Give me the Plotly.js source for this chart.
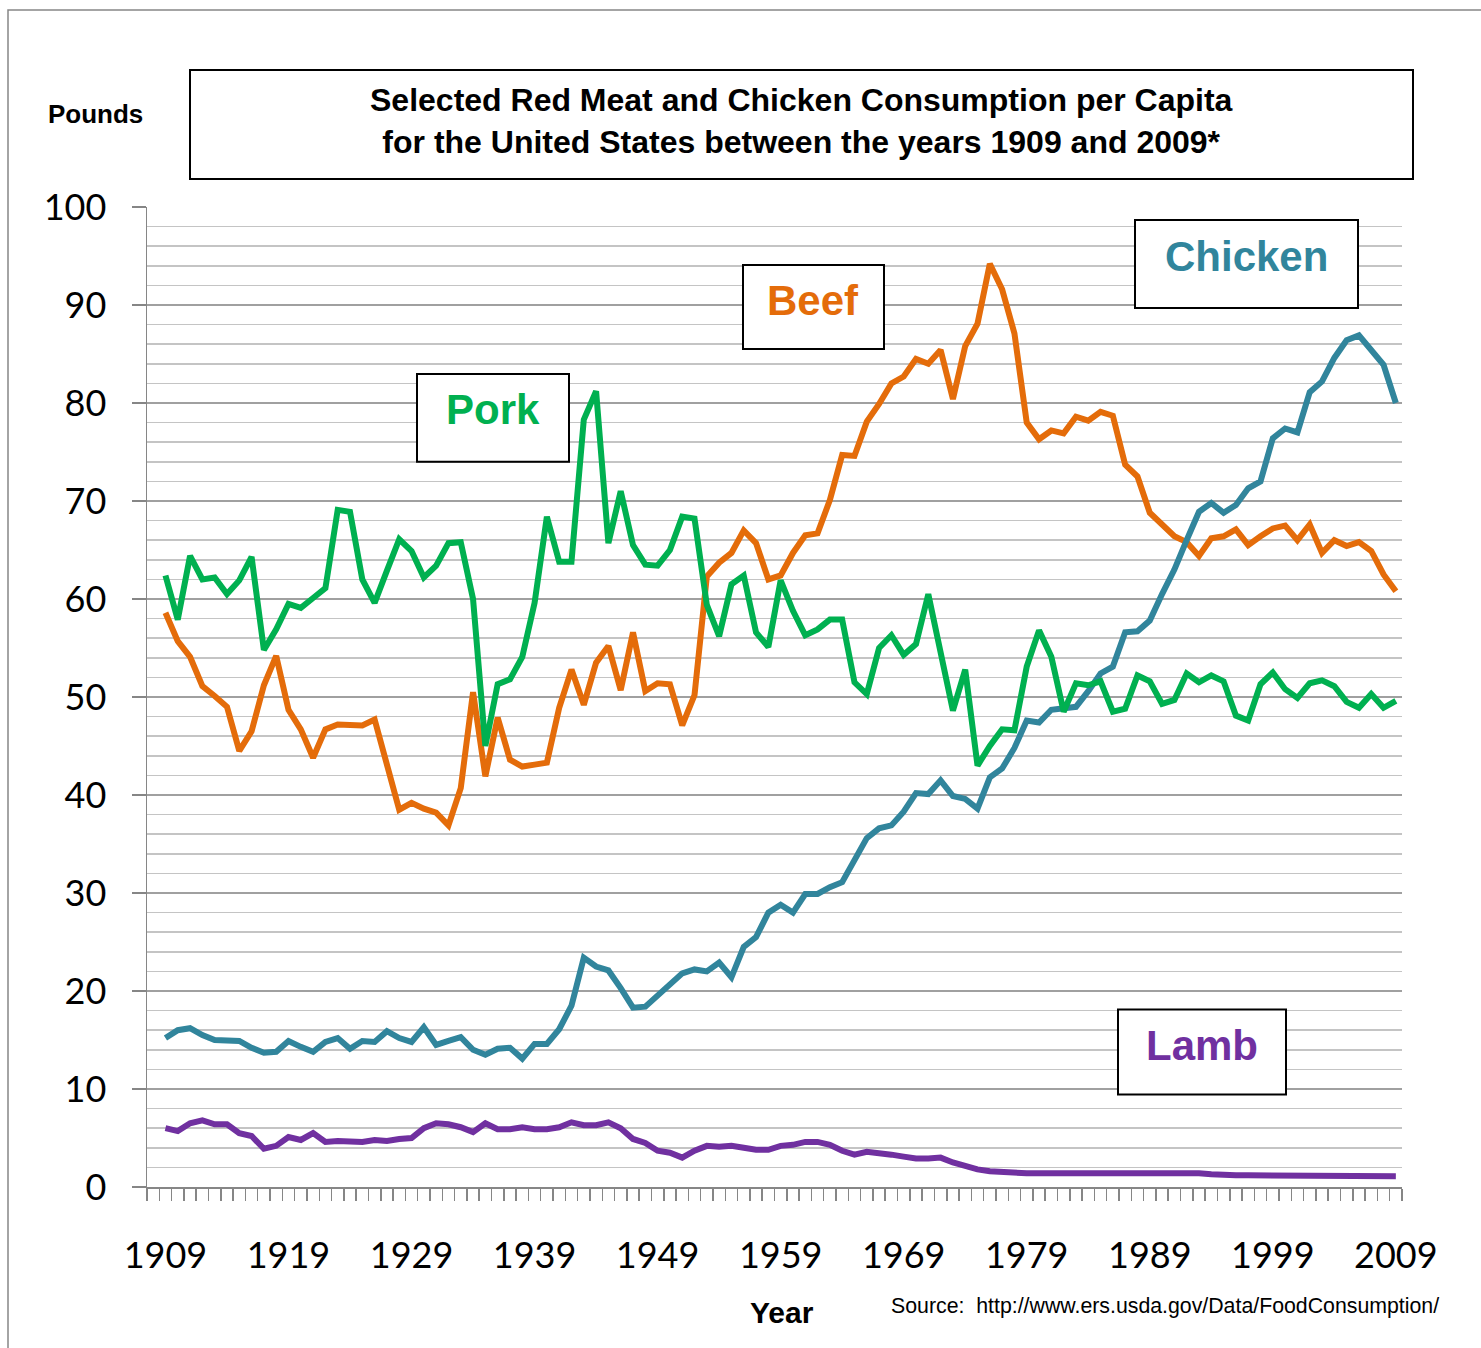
<!DOCTYPE html>
<html><head><meta charset="utf-8">
<script src="https://cdn.plot.ly/plotly-3.0.1.min.js"></script>
<style>html,body{margin:0;padding:0;background:#fff}#chart{width:1481px;height:1348px}</style>
</head><body><div id="chart"></div>
<script>
const years = [1909,1910,1911,1912,1913,1914,1915,1916,1917,1918,1919,1920,1921,1922,1923,1924,1925,1926,1927,1928,1929,
1930,1931,1932,1933,1934,1935,1936,1937,1938,1939,1940,1941,1942,1943,1944,1945,1946,1947,1948,1949,
1950,1951,1952,1953,1954,1955,1956,1957,1958,1959,1960,1961,1962,1963,1964,1965,1966,1967,1968,1969,
1970,1971,1972,1973,1974,1975,1976,1977,1978,1979,1980,1981,1982,1983,1984,1985,1986,1987,1988,1989,
1990,1991,1992,1993,1994,1995,1996,1997,1998,1999,2000,2001,2002,2003,2004,2005,2006,2007,2008,2009];

const pork = [62.4,57.9,64.4,62.0,62.2,60.5,61.9,64.3,54.8,56.9,59.5,59.1,60.1,61.1,69.1,68.9,62.0,59.6,62.9,66.1,64.9,
62.2,63.4,65.7,65.8,60.0,45.0,51.3,51.8,54.1,59.6,68.4,63.8,63.8,78.3,81.2,65.7,71.0,65.5,63.5,63.4,
65.0,68.4,68.2,59.4,56.2,61.5,62.4,56.6,55.1,61.9,58.8,56.3,56.9,57.9,57.9,51.5,50.3,55.0,56.3,54.3,
55.4,60.5,54.6,48.6,52.8,43.0,45.0,46.7,46.6,53.1,56.8,54.1,48.5,51.4,51.2,51.6,48.5,48.8,52.2,51.6,
49.3,49.7,52.4,51.5,52.2,51.6,48.1,47.6,51.3,52.5,50.8,49.9,51.4,51.7,51.1,49.5,48.9,50.3,48.9,49.6];

const beef = [58.6,55.7,54.1,51.1,50.1,49.0,44.5,46.5,51.2,54.2,48.7,46.7,43.8,46.7,47.2,47.1,47.1,47.7,43.3,38.5,39.2,
38.6,38.2,36.9,40.7,50.5,41.9,47.9,43.6,42.9,43.1,43.3,48.9,52.8,49.2,53.5,55.2,50.7,56.6,50.6,51.4,
51.3,47.1,50.2,62.3,63.7,64.7,67.0,65.7,62.0,62.4,64.7,66.5,66.7,70.1,74.7,74.6,78.1,79.9,82.0,82.7,
84.5,84.0,85.4,80.4,85.8,88.1,94.2,91.6,87.1,78.0,76.3,77.2,76.9,78.6,78.2,79.1,78.7,73.7,72.5,68.8,
67.5,66.4,65.8,64.4,66.2,66.4,67.1,65.5,66.4,67.2,67.5,66.0,67.6,64.7,66.0,65.4,65.8,64.9,62.5,60.8];

const chicken = [15.2,16.0,16.2,15.5,15.0,15.0,14.9,14.2,13.7,13.8,14.9,14.3,13.8,14.8,15.2,14.1,14.9,14.8,15.9,15.2,14.8,
16.3,14.5,14.9,15.3,14.0,13.5,14.1,14.2,13.1,14.6,14.6,16.1,18.5,23.4,22.5,22.1,20.3,18.3,18.4,19.6,
20.8,21.8,22.2,22.0,22.9,21.4,24.5,25.5,28.0,28.8,28.0,29.9,29.9,30.6,31.1,33.4,35.6,36.6,36.9,38.3,
40.2,40.1,41.5,39.9,39.6,38.6,41.8,42.7,44.8,47.6,47.4,48.7,48.9,49.0,50.6,52.4,53.1,56.6,56.7,57.8,
60.5,63.0,66.0,68.9,69.8,68.8,69.6,71.3,72.0,76.4,77.4,77.0,81.1,82.2,84.6,86.4,86.9,85.5,83.9,80.0];

const lamb = [6.0,5.7,6.5,6.8,6.4,6.4,5.5,5.2,3.9,4.2,5.1,4.8,5.5,4.6,4.7,4.6,4.6,4.8,4.7,4.9,5.0,
6.0,6.5,6.4,6.1,5.6,6.5,5.9,5.9,6.1,5.9,5.9,6.1,6.6,6.3,6.3,6.6,6.0,4.9,4.5,3.7,
3.5,3.0,3.7,4.2,4.1,4.2,4.0,3.8,3.8,4.2,4.3,4.6,4.6,4.3,3.7,3.3,3.6,3.5,3.3,3.1,
2.9,2.9,3.0,2.5,2.1,1.8,1.6,1.5,1.4,1.4,1.4,1.4,1.5,1.5,1.5,1.5,1.4,1.4,1.4,1.5,
1.5,1.5,1.4,1.4,1.3,1.2,1.2,1.2,1.2,1.2,1.2,1.2,1.2,1.2,1.1,1.1,1.1,1.2,1.1,1.1];

const labelYears = [1909,1919,1929,1939,1949,1959,1969,1979,1989,1999,2009];
const labelText = ['1909','1919','1929','1939','1949','1959','1969','1979','1989','1999','2009'];
const seriesNames = ['Beef','Chicken','Lamb','Pork'];
const seriesColors = {Beef:'#E46C0A', Chicken:'#31859C', Lamb:'#7030A0', Pork:'#00B050'};
const seriesData = {Beef:beef, Chicken:chicken, Lamb:lamb, Pork:pork};

// plot area geometry in pixels
const L=147, R=1402, T=207, B=1187.5;
const px = x => (x-L)/(R-L);
const py = y => (B-y)/(B-T);

const traces = seriesNames.map(n => ({
  type:'scatter', mode:'lines', name:n, x:years, y:seriesData[n],
  line:{color:seriesColors[n], width:6, shape:'linear'}, hoverinfo:'skip'
}));

const axisGray = '#868686';
const boxes = [
  {x0:417,x1:569,y0:374,y1:462},
  {x0:743,x1:884,y0:265,y1:349},
  {x0:1135,x1:1358,y0:220,y1:308},
  {x0:1118,x1:1286,y0:1010,y1:1095}
];
const shapes = [
  {type:'rect', xref:'paper', yref:'paper', x0:px(8), x1:px(1495), y0:py(1370), y1:py(10),
   line:{color:axisGray, width:1.5}, fillcolor:'rgba(0,0,0,0)', layer:'below'},
  {type:'rect', xref:'paper', yref:'paper', x0:px(190), x1:px(1413), y0:py(179), y1:py(70),
   line:{color:'#000', width:2}, fillcolor:'#fff', layer:'above'}
].concat(boxes.map(b => ({type:'rect', xref:'paper', yref:'paper', x0:px(b.x0), x1:px(b.x1), y0:py(b.y1), y1:py(b.y0),
   line:{color:'#000', width:2}, fillcolor:'#fff', layer:'above'})));

const bold = 'Liberation Sans, Arial, sans-serif';
const labelPos = {Pork:[493,410], Beef:[813,301], Chicken:[1246,257], Lamb:[1202,1046]};
const annotations = [
  {text:'<b>Selected Red Meat and Chicken Consumption per Capita<br>for the United States between the years 1909 and 2009*</b>',
   x:px(801), y:py(121), xref:'paper', yref:'paper', showarrow:false, xanchor:'center', yanchor:'middle',
   font:{family:bold, size:32, color:'#000'}},
  {text:'<b>Pounds</b>', x:px(95), y:py(114), xref:'paper', yref:'paper', showarrow:false,
   xanchor:'center', yanchor:'middle', font:{family:bold, size:26, color:'#000'}},
  {text:'<b>Year</b>', x:px(782), y:py(1313), xref:'paper', yref:'paper', showarrow:false,
   xanchor:'center', yanchor:'middle', font:{family:bold, size:30, color:'#000'}},
  {text:'Source:  http://www.ers.usda.gov/Data/FoodConsumption/', x:px(889), y:py(1307), xref:'paper', yref:'paper',
   showarrow:false, xanchor:'left', yanchor:'middle', font:{family:bold, size:21.3, color:'#000'}}
].concat(seriesNames.map(n => ({
  text:'<b>'+n+'</b>', x:px(labelPos[n][0]), y:py(labelPos[n][1]), xref:'paper', yref:'paper', showarrow:false,
  xanchor:'center', yanchor:'middle', font:{family:bold, size:42, color:seriesColors[n]}
})));

const layout = {
  width:1481, height:1348,
  margin:{l:L, r:1481-R, t:T, b:1348-B, pad:0},
  paper_bgcolor:'#fff', plot_bgcolor:'#fff',
  showlegend:false,
  xaxis:{range:[1907.5,2009.5], showgrid:false, zeroline:false, showline:true, linecolor:axisGray, linewidth:1.5,
    tickmode:'array', tickvals:labelYears, ticktext:labelText, ticks:'',
    tickfont:{family:'Lato, sans-serif', size:36, color:'#000'}, ticklabelstandoff:36,
    minor:{tickmode:'linear', tick0:1907.5, dtick:1, ticks:'outside', ticklen:12, tickcolor:axisGray, tickwidth:1.5, showgrid:false}},
  yaxis:{range:[0,100], tickmode:'linear', tick0:0, dtick:10, showgrid:true, gridcolor:'#a0a0a0', gridwidth:1.5,
    zeroline:false, showline:true, linecolor:axisGray, linewidth:1.5,
    ticks:'outside', ticklen:14, tickcolor:axisGray, tickwidth:1.5,
    tickfont:{family:'Lato, sans-serif', size:36, color:'#000'}, ticklabelstandoff:18,
    minor:{tickmode:'linear', tick0:0, dtick:2, showgrid:true, gridcolor:'#c4c4c4', gridwidth:1.5, ticks:''}},
  shapes:shapes, annotations:annotations
};

Plotly.newPlot('chart', traces, layout, {displayModeBar:false, staticPlot:true});
</script></body></html>
